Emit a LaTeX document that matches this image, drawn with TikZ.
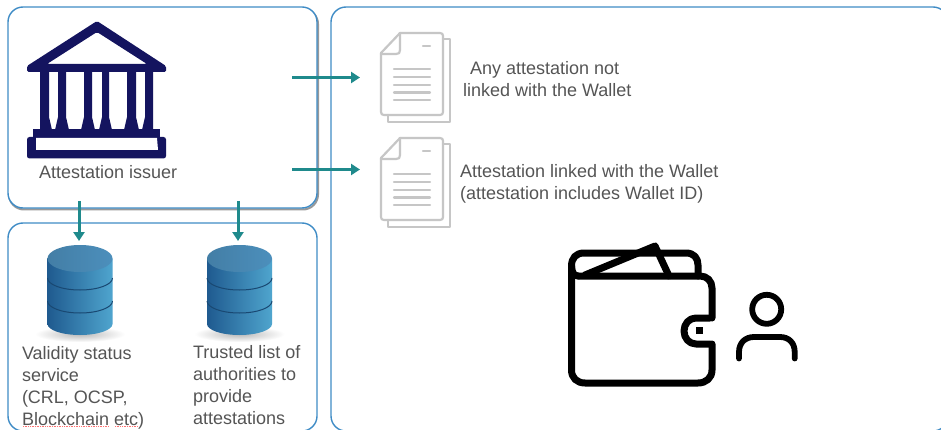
\documentclass[tikz,border=0pt]{standalone}
\usepackage{fontspec}
\setmainfont{Liberation Sans}
\usetikzlibrary{arrows.meta,shadings}
\definecolor{panelblue}{HTML}{3F8CC6}
\definecolor{teal1}{HTML}{1F8A8C}
\definecolor{navy1}{HTML}{14145F}
\definecolor{txtgray}{HTML}{555555}
\definecolor{docgray}{HTML}{C6C6C6}
\definecolor{cylL}{HTML}{1F5A8F}
\definecolor{cylR}{HTML}{4FA5CE}
\definecolor{cylT}{HTML}{4C8FBC}
\tikzset{
  panel/.style={draw=panelblue,line width=1.4pt,fill=white,rounded corners=15pt},
  panelshadow/.style={draw=black!40,line width=2pt,rounded corners=15pt},
  flow/.style={draw=teal1,line width=3pt,-{Triangle[length=9pt,width=11pt]},shorten >=0pt},
  lbl/.style={inner sep=0pt,outer sep=0pt,text=txtgray,align=left,font=\fontsize{18}{22}\selectfont},
  docline/.style={draw=docgray,line width=2.2pt,line join=round,line cap=round},
  iconline/.style={draw=black,line width=7pt,line join=round,line cap=round},
  personline/.style={draw=black,line width=5.8pt,line join=round,line cap=round},
  pics/docicon/.style={code={
    \draw[docline] (443,6) -- (450,6) -- (450,89) -- (388,89) -- (388,82);
    \draw[docline] (400,0) -- (440,0) .. controls (442,0) and (443,1) .. (443,3) -- (443,79) .. controls (443,81) and (442,82) .. (440,82) -- (384,82) .. controls (382,82) and (381,81) .. (381,79) -- (381,20) -- cycle;
    \draw[docline] (381,21) -- (396,21) .. controls (399,21) and (400,20) .. (400,17) -- (400,0);
    \draw[docline] (423,13) -- (430,13);
    \foreach \yy in {36,44,52,59.5,67} {\draw[docline] (394,\yy) -- (430,\yy);}
  }},
  pics/dbicon/.style={code={
    \shade[inner color=black!28,outer color=white] (32.5,89) ellipse [x radius=45,y radius=8];
    \path[left color=cylL,right color=cylR] (0,13.5) -- (0,79) arc [start angle=180,end angle=0,x radius=32.5,y radius=11] -- (65,13.5) -- cycle;
    \path[left color=cylT!88!black,right color=cylT] (32.5,13.5) ellipse [x radius=32.5,y radius=13.5];
    \draw[cylL!80!black,line width=1pt] (0,33) arc [start angle=180,end angle=0,x radius=32.5,y radius=12];
    \draw[cylL!80!black,line width=1pt] (0,56) arc [start angle=180,end angle=0,x radius=32.5,y radius=12];
  }}
}
\newcommand{\colshape}[4]{% x1 x2 flareL flareR
  \fill[navy1] (#1,70) -- (#2,70) -- (#2,117) -- (#2+#4,130) -- (#1-#3,130) -- (#1,117) -- cycle;}
\begin{document}
\begin{tikzpicture}[x=1pt,y=-1pt]
\useasboundingbox (0,0) rectangle (941,430);
\clip (0,0) rectangle (941,430);
\fill[white] (0,0) rectangle (941,430);
% panels
\draw[panelshadow] (9,9) rectangle (318,209.5);
\draw[panel] (8,7) rectangle (317,208);
\draw[panel] (8,223) rectangle (317,431);
\draw[panel] (331,7) rectangle (948,431);
% temple
\fill[navy1,even odd rule,rounded corners=1.5pt] (97,21) -- (166,66) -- (166,72) -- (27,72) -- (27,66) -- cycle
  (47,64) -- (147,64) -- (97,32) -- cycle;
\colshape{40}{49}{0}{3}
\colshape{58}{66}{3}{3}
\colshape{84}{92}{3}{3}
\colshape{102}{109}{3}{3}
\colshape{127}{136}{3}{3}
\colshape{145}{153}{3}{0}
\fill[navy1] (33,129) rectangle (160,138);
\fill[navy1,rounded corners=2.5pt] (27,137) rectangle (166,158.5);
\fill[white] (36,138) -- (157,138) -- (158,150) -- (36,150) -- cycle;
\node[lbl,anchor=base west] (issuerlbl) at (39,179) {Attestation issuer};
% databases
\pic at (47.5,245) {dbicon};
\pic at (207,245) {dbicon};
\coordinate (db1) at (79,241);
\coordinate (db2) at (238,241);
\coordinate (is1) at (79,201);
\coordinate (is2) at (238,201);
\node[lbl,anchor=north west] (val) at (22,346) {Validity status\\service\\(CRL, OCSP,\\Blockchain etc)};
\node[lbl,anchor=north west] (tru) at (193,345) {Trusted list of\\authorities to\\provide\\attestations};
\draw[red!55,line width=0.7pt,densely dotted] (23,426.5) -- (109,426.5);
\draw[red!55,line width=0.7pt,densely dotted] (115,426.5) -- (138,426.5);
% documents
\pic at (0,33) {docicon};
\pic at (0,138) {docicon};
\node[lbl,anchor=base west] (any) at (470,75) {Any attestation not};
\node[lbl,anchor=base west] (lnk) at (463,97) {linked with the Wallet};
\node[lbl,anchor=north west] (att) at (460,164) {Attestation linked with the Wallet\\(attestation includes Wallet ID)};
% arrows
\coordinate (a1s) at (292,77.5);
\coordinate (a1e) at (360,77.5);
\coordinate (a2s) at (292,169.5);
\coordinate (a2e) at (360,169.5);
\draw[flow] (a1s) -- (a1e);
\draw[flow] (a2s) -- (a2e);
\draw[flow] (is1) -- (db1);
\draw[flow] (is2) -- (db2);
% wallet
\draw[iconline] (578,276) .. controls (574,276) and (571.5,272) .. (571.5,266) .. controls (571.5,258) and (576,253) .. (584,253) -- (686,253) .. controls (694,253) and (698,258) .. (698,265) -- (698,276);
\draw[iconline] (585,275) -- (655,246) -- (669,276);
\draw[iconline] (571.5,266) -- (571.5,370) .. controls (571.5,378) and (577,383) .. (585,383) -- (698,383) .. controls (706,383) and (712,378) .. (712,370) -- (712,344);
\draw[iconline] (578,276) -- (700,276) .. controls (707,276) and (712,281) .. (712,288) -- (712,318);
\draw[iconline] (710,318) -- (696,318) .. controls (689,318) and (684,324) .. (684,331) .. controls (684,338) and (689,344) .. (696,344) -- (710,344);
\fill[black] (696,327) rectangle (703,334);
% person
\draw[personline] (766.7,309.3) circle [radius=14.5];
\draw[personline] (739,358.5) -- (739,352) .. controls (739,343) and (745,337) .. (754,337) -- (780,337) .. controls (789,337) and (794.7,343) .. (794.7,352) -- (794.7,358.5);
\end{tikzpicture}
\end{document}
